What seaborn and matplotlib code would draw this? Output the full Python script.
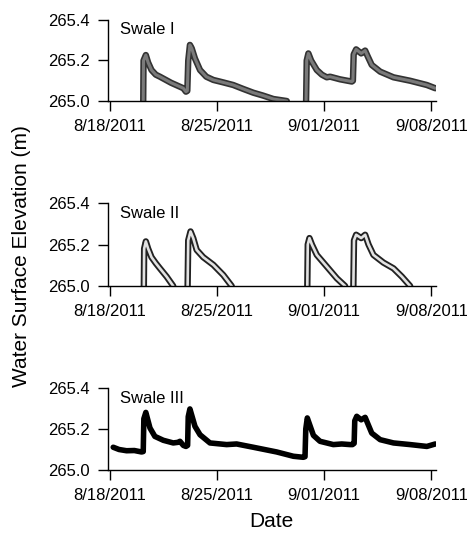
import numpy as np
import pandas as pd
import matplotlib.pyplot as plt
import seaborn as sns

# Water surface elevation (m) per swale, days counted from 8/18/2011
# nan marks a break in the record (water level below the gauge)
nan = np.nan

days_1 = [2.18, 2.20, 2.35, 2.50, 2.72, 3.00, 3.27, 4.00, 4.80, 4.97, 5.06, 5.12, 5.23, 5.35,
          5.56, 5.89, 6.30, 6.76, 7.40, 8.06, 8.70, 9.37, 10.00, 10.68, 11.56, nan,
          12.82, 12.86, 12.97, 13.15, 13.52, 13.85, 14.17, 14.39, 15.04, 15.81, 15.88,
          15.93, 16.09, 16.42, 16.68, 16.85, 17.11, 17.66, 18.53, 19.62, 20.71, 21.26]
elev_1 = [265.000, 265.200, 265.227, 265.190, 265.153, 265.130, 265.120, 265.090, 265.063,
          265.046, 265.050, 265.200, 265.277, 265.260, 265.210, 265.153, 265.120, 265.104,
          265.092, 265.079, 265.060, 265.041, 265.027, 265.010, 265.000, nan,
          265.000, 265.200, 265.235, 265.200, 265.153, 265.130, 265.117, 265.120, 265.107,
          265.096, 265.100, 265.230, 265.255, 265.235, 265.249, 265.220, 265.178, 265.145,
          265.117, 265.100, 265.079, 265.063]

days_2 = [2.22, 2.24, 2.35, 2.50, 2.72, 3.00, 3.27, 3.71, 4.14, nan,
          5.08, 5.12, 5.27, 5.45, 5.67, 6.10, 6.76, 7.41, 7.96, nan,
          12.90, 12.93, 13.04, 13.20, 13.52, 14.17, 14.83, 15.37, nan,
          15.91, 15.95, 16.09, 16.42, 16.68, 16.90, 17.22, 17.87, 18.53, 19.08, 19.62]
elev_2 = [265.000, 265.180, 265.215, 265.180, 265.139, 265.110, 265.085, 265.045, 265.000, nan,
          265.000, 265.220, 265.263, 265.230, 265.174, 265.139, 265.102, 265.053, 265.000, nan,
          265.000, 265.200, 265.231, 265.200, 265.150, 265.094, 265.037, 265.000, nan,
          265.000, 265.220, 265.247, 265.231, 265.247, 265.200, 265.150, 265.113, 265.085,
          265.045, 265.000]

days_3 = [0.22, 0.60, 1.09, 1.60, 2.07, 2.18, 2.22, 2.35, 2.62, 2.94, 3.49, 4.14, 4.45, 4.58,
          4.80, 4.97, 5.08, 5.12, 5.23, 5.56, 5.89, 6.54, 7.63, 8.28, 9.37, 10.90, 11.99,
          12.64, 12.75, 12.80, 12.90, 13.30, 13.73, 14.60, 15.15, 15.70, 15.85, 15.96, 16.00,
          16.13, 16.42, 16.68, 17.11, 17.66, 18.53, 19.62, 20.71, 21.26]
elev_3 = [265.111, 265.100, 265.094, 265.095, 265.088, 265.090, 265.250, 265.281, 265.205,
          265.164, 265.145, 265.132, 265.135, 265.140, 265.120, 265.115, 265.120, 265.260,
          265.298, 265.213, 265.172, 265.132, 265.124, 265.127, 265.111, 265.088, 265.067,
          265.062, 265.065, 265.200, 265.254, 265.169, 265.140, 265.124, 265.127, 265.124,
          265.124, 265.130, 265.240, 265.262, 265.245, 265.257, 265.180, 265.148, 265.132,
          265.124, 265.115, 265.127]

swale_names = ['Swale I', 'Swale II', 'Swale III']
y_ticks = [265.0, 265.2, 265.4]
x_tick_days = [0, 7, 14, 21]
x_tick_labels = ['8/18/2011', '8/25/2011', '9/01/2011', '9/08/2011']

start = pd.Timestamp('2011-08-18')


def make_frame(days, elev):
    df = pd.DataFrame({'day': days, 'elev': elev})
    df['seg'] = df['elev'].isna().cumsum()
    df = df.dropna()
    df['date'] = start + pd.to_timedelta(df['day'], unit='D')
    return df


frames = [make_frame(days_1, elev_1), make_frame(days_2, elev_2), make_frame(days_3, elev_3)]
# (outer colour, outer width, inner colour, inner width)
styles = [('#333333', 4.6, '#7a7a7a', 2.2),
          ('#222222', 4.6, '#e2e2e2', 1.9),
          ('black', 4.0, None, 0)]

sns.set_style('ticks')
plt.rcParams['font.family'] = ['Liberation Sans', 'DejaVu Sans']
plt.rcParams['text.color'] = 'black'

fig = plt.figure(figsize=(4.67, 5.33), dpi=100)
rects = [[0.231, 0.8105, 0.703, 0.152],
         [0.231, 0.4634, 0.703, 0.1557],
         [0.231, 0.1182, 0.703, 0.1538]]

for rect, df, name, (oc, ow, ic, iw) in zip(rects, frames, swale_names, styles):
    ax = fig.add_axes(rect)
    sns.lineplot(data=df, x='date', y='elev', units='seg', estimator=None,
                 color=oc, linewidth=ow, ax=ax, legend=False)
    if ic is not None:
        sns.lineplot(data=df, x='date', y='elev', units='seg', estimator=None,
                     color=ic, linewidth=iw, ax=ax, legend=False)
    ax.set_ylim(265.0, 265.4)
    ax.set_yticks(y_ticks)
    ax.set_yticklabels(['%.1f' % v for v in y_ticks])
    ax.set_xlim(start - pd.Timedelta(days=0.13), start + pd.Timedelta(days=21.32))
    ax.set_xticks([start + pd.Timedelta(days=d) for d in x_tick_days])
    ax.set_xticklabels(x_tick_labels)
    ax.set_xlabel('')
    ax.set_ylabel('')
    sns.despine(ax=ax)
    for s in ['left', 'bottom']:
        ax.spines[s].set_color('black')
        ax.spines[s].set_linewidth(1.0)
    ax.tick_params(direction='out', length=7, width=1.0, labelsize=12, pad=6,
                   color='black', labelcolor='black')
    ax.text(0.037, 0.877, name, transform=ax.transAxes, fontsize=12, va='center',
            color='black')

fig.text(0.047, 0.52, 'Water Surface Elevation (m)', rotation=90, fontsize=15,
         ha='center', va='center', color='black')
fig.text(0.582, 0.004, 'Date', fontsize=15, ha='center', va='bottom', color='black')

plt.savefig('out.png', dpi=100)
